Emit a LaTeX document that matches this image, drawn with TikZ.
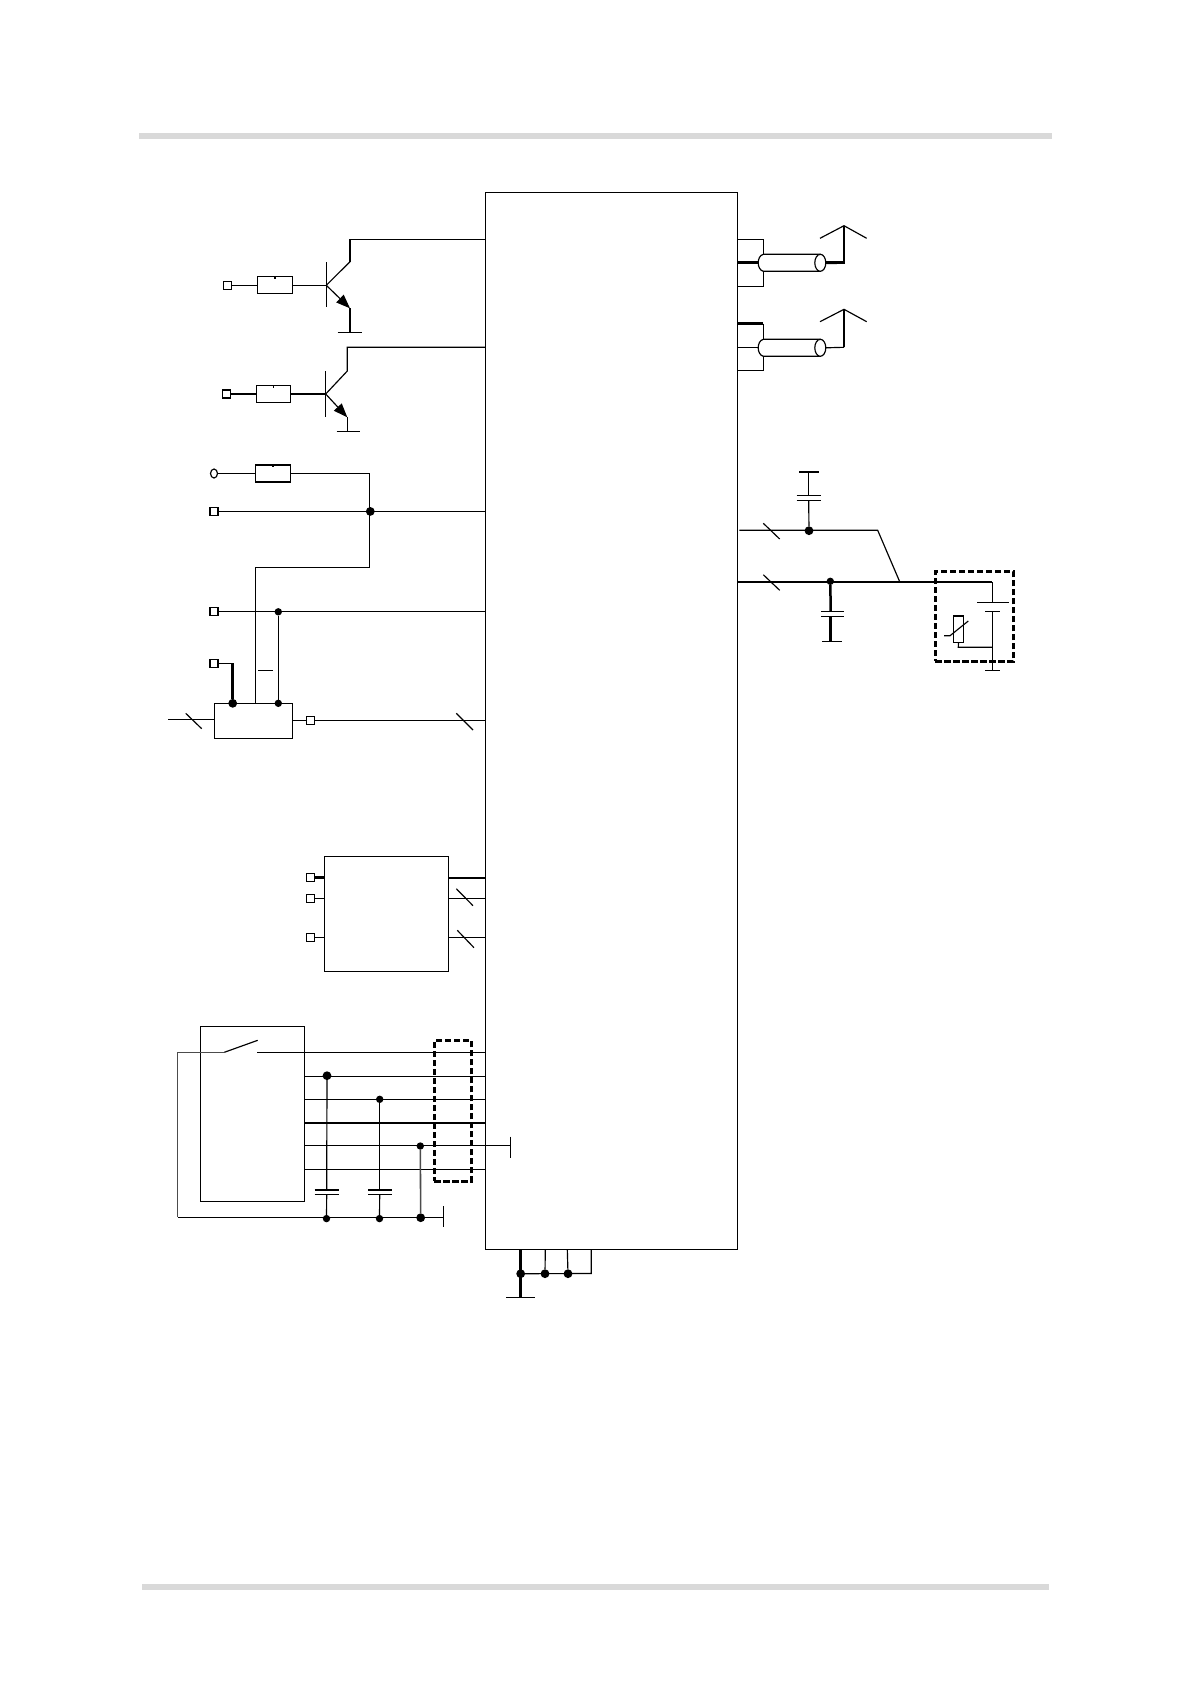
\documentclass[tikz,border=0pt]{standalone}
\usetikzlibrary{arrows.meta,shapes.geometric}
\def\un{0.6pt}
\definecolor{ruleclr}{RGB}{217,217,217}
\tikzset{
  x=0.6pt,y=-0.6pt,
  every path/.style={line width=0.7pt,line join=miter},
  bus/.style={line width=1.5pt},
  grayline/.style={line width=0.95pt,draw=black!70},
  plate/.style={line width=1.1pt},
  rule/.style={fill=ruleclr,draw=none},
  pin/.style={draw,fill=white,rectangle,inner sep=0,outer sep=0,line width=0.7pt,minimum width=8*\un,minimum height=8*\un},
  ringpin/.style={draw,fill=white,ellipse,inner sep=0,outer sep=0,line width=0.7pt,minimum width=7*\un,minimum height=9*\un},
  res/.style={draw,rectangle,inner sep=0,outer sep=0,line width=0.8pt,minimum width=35*\un,minimum height=17*\un},
  block/.style={draw,rectangle,inner sep=0,outer sep=0,line width=0.7pt},
  dot/.style={circle,fill=black,inner sep=0,outer sep=0,minimum size=8.8*\un},
  sdot/.style={circle,fill=black,inner sep=0,outer sep=0,minimum size=7.4*\un},
  dashbox/.style={draw,rectangle,inner sep=0,outer sep=0,line width=1.7pt,dash pattern=on 3.8pt off 1.6pt},
  arrowtip/.style={-{Triangle[length=14*\un,width=10.5*\un]}},
  cabend/.style={draw,ellipse,inner sep=0,outer sep=0,fill=white,line width=0.7pt,minimum width=11*\un,minimum height=17*\un},
}
\begin{document}
\begin{tikzpicture}
\useasboundingbox (0,0) rectangle (1190,1684);
\fill[white] (0,0) rectangle (1190,1684);
% header and footer rules
\fill[rule] (139,133) rectangle (1052,139);
\fill[rule] (142,1584) rectangle (1049,1590);
% main block
\node[block,minimum width=252*\un,minimum height=1057*\un] (main) at (611.3,720.8) {};

%% transistor 1
\node[pin] (p1) at (227.3,285.3) {};
\node[res] (r1) at (275,285.3) {};
\coordinate (b1) at (326.3,285.3);
\coordinate (c1) at (350,261.7);
\coordinate (ct1) at (350,239.3);
\coordinate (e1) at (350,308.3);
\coordinate (g1) at (350,332.3);
\draw (p1) -- (r1);
\draw (r1) -- (b1);
\draw (326.3,262.3) -- (326.3,307.3);
\draw (b1) -- (c1);
\draw[bus] (c1) -- (ct1);
\draw (ct1) -- (ct1 -| main.west);
\draw[arrowtip] (b1) -- (e1);
\draw[bus] (e1) -- (g1);
\draw (337.7,332.3) -- (361.7,332.3);
\draw (r1.north) -- ++(0,2);

%% transistor 2
\node[pin] (p2) at (226.3,394) {};
\node[res,minimum width=34.4*\un] (r2) at (273.5,394) {};
\coordinate (b2) at (325.7,394);
\coordinate (c2) at (347.3,371);
\coordinate (ct2) at (347.3,347.3);
\coordinate (e2) at (347.3,417.3);
\coordinate (g2) at (347.3,431.3);
\draw (p2) -- (r2);
\draw (r2) -- (b2);
\draw (325.7,371) -- (325.7,417.3);
\draw (b2) -- (c2) -- (ct2) -- (ct2 -| main.west);
\draw[arrowtip] (b2) -- (e2);
\draw (e2) -- (g2);
\draw (336.7,431.3) -- (360,431.3);
\draw (r2.north) -- ++(0,2);

%% resistor and pull lines
\node[ringpin] (p3) at (214,473.5) {};
\node[res] (r3) at (273,473.5) {};
\node[pin] (p4) at (214,511.4) {};
\node[dot] (j4) at (370.3,511.4) {};
\node[pin] (p5) at (214,611.8) {};
\node[sdot] (j5) at (278.3,611.8) {};
\node[pin] (p6) at (214,663.7) {};
\node[block,minimum width=78.4*\un,minimum height=35*\un] (reg) at (253.5,720.8) {};
\node[dot] (j6) at (232.7,703.3) {};
\node[sdot] (j7) at (278.3,703.3) {};
\node[pin] (p7) at (310.3,720.3) {};
\coordinate (k1) at (369.3,473.5);
\coordinate (k2) at (369.3,567.3);
\coordinate (k3) at (255.3,567.3);
\coordinate (k4) at (168,719.3);
\draw (p3) -- (r3);
\draw (r3) -- (k1) -- (k2) -- (k3) -- (k3 |- reg.north);
\draw (p4) -- (p4 -| main.west);
\draw (p5) -- (p5 -| main.west);
\draw (j5) -- (j7);
\draw (p6.east) -- (232.7,663.7);
\draw[bus] (232.7,663.4) -- (j6);
\draw (258.3,670.3) -- (273,670.3);
\draw (k4) -- (k4 -| reg.west);
\draw (185.7,713.3) -- (201.7,728.7);
\draw (reg.east |- p7) -- (p7);
\draw (p7) -- (p7 -| main.west);
\draw (456.3,713.3) -- (473,730);
\draw (r3.north) -- ++(0,2);

%% antenna 1
\coordinate (a1) at (844,262.7);
\coordinate (a1t) at (844,225.7);
\draw (737.3,239.3) -- (763.3,239.3) -- (763.3,286.3) -- (737.3,286.3);
\draw[bus] (737.3,262.7) -- (a1) -- (a1t);
\draw[fill=white] (820.7,254.3) -- (763.3,254.3) .. controls (756.5,256) and (756.5,269.5) .. (763.3,271.3) -- (820.7,271.3);
\node[cabend] (cab1) at (820.3,262.8) {};
\draw[bus] (cab1.east) -- (a1);
\draw (820,238.3) -- (a1t) -- (866.7,238.3);

%% antenna 2
\coordinate (a2) at (844,347.3);
\coordinate (a2t) at (844,309.3);
\draw (763.3,323.7) -- (763.3,370.3) -- (737.3,370.3);
\draw[bus] (737.3,323.7) -- (763.3,323.7);
\draw (737.3,347.3) -- (a2);
\draw[fill=white] (820.7,339.3) -- (763.3,339.3) .. controls (756.5,341) and (756.5,354.5) .. (763.3,356.3) -- (820.7,356.3);
\node[cabend] (cab2) at (820.3,347.8) {};
\draw (cab2.east) -- (a2);
\draw[line width=1pt] (a2) -- (a2t);
\draw (820,321.7) -- (a2t) -- (866.7,321.7);

%% right side supply
\node[dot] (j8) at (809,530.7) {};
\node[sdot] (j9) at (830.3,581.3) {};
\coordinate (m1) at (739.3,530.3);
\coordinate (m2) at (877.7,530.3);
\coordinate (m3) at (899.7,581.7);
\coordinate (bt) at (992.3,582);
\draw (m1) -- (m2) -- (m3);
\draw (763.3,523.3) -- (779.7,539);
\draw (j8) -- (808.7,500.3);
\draw (796.7,500.3) -- (820.7,500.3);
\draw (796.7,495.3) -- (820.7,495.3);
\draw (808.7,495.3) -- (808.7,472);
\draw[bus] (799,472) -- (818.7,472);
\draw[bus] (737.3,582) -- (bt);
\draw (763.3,574.7) -- (779.7,590.3);
\draw[bus] (j9) -- (830.7,611.3);
\draw (821,611.3) -- (844.3,611.3);
\draw (821,616.3) -- (844.3,616.3);
\draw[bus] (830.7,616.3) -- (830.7,641.3);
\draw (822.3,641.3) -- (842,641.3);
% battery pack
\node[dashbox,minimum width=78*\un,minimum height=89.6*\un] (pack) at (974.3,616.5) {};
\draw (bt) -- (992.3,602.3);
\draw (977,602.3) -- (1009,602.3);
\draw (985,611.3) -- (1000,611.3);
\draw (992.3,611.3) -- (992.3,670.3);
\draw (985,670.3) -- (1000,670.3);
\node[draw,rectangle,inner sep=0,outer sep=0,line width=0.7pt,minimum width=10.4*\un,minimum height=26.3*\un] (th) at (958.5,629.2) {};
\draw (944,635.7) -- (950,635.7) -- (968.3,621);
\draw (th.south) -- (958.3,647.3) -- (992.3,647.3);

%% SIM-like block
\node[block,minimum width=124.4*\un,minimum height=115*\un] (ic) at (386.5,913.8) {};
\node[pin] (p8) at (310.3,877.7) {};
\node[pin] (p9) at (310.3,898.3) {};
\node[pin] (p10) at (310.3,937.8) {};
\draw[bus] (p8.east) -- (324.3,877.7);
\draw (p9.east) -- (324.3,898.3);
\draw (p10.east) -- (324.3,937.8);
\draw[bus] (448.7,878) -- (485.3,878);
\draw (448.7,898.3) -- (485.3,898.3);
\draw (448.7,937.8) -- (485.3,937.8);
\draw (456.3,888.7) -- (473,905.7);
\draw (457.3,930.3) -- (474,947.7);

%% lower block
\node[block,minimum width=104*\un,minimum height=175*\un] (conn) at (252.3,1113.8) {};
\node[dashbox,minimum width=37*\un,minimum height=140.6*\un] (esd) at (452.8,1111) {};
\node[dot] (j10) at (327,1075.7) {};
\node[sdot] (j11) at (379.7,1099.3) {};
\node[sdot] (j12) at (420.3,1146) {};
\node[sdot] (j13) at (326.5,1218.6) {};
\node[sdot] (j14) at (379.5,1218.6) {};
\node[dot] (j15) at (420.7,1217.7) {};
\coordinate (s1) at (224.3,1052.3);
\coordinate (s2) at (257.7,1040.3);
\coordinate (s3) at (257,1052.3);
\coordinate (s4) at (177.7,1052.3);
\coordinate (s5) at (177.7,1217.3);
\coordinate (s6) at (443.3,1217.3);
\coordinate (g5) at (510.3,1145.3);
\draw (s1) -- (s2);
\draw (s3) -- (s3 -| main.west);
\draw[grayline] (s1) -- (s4) -- (s5);
\draw (s5) -- (s6);
\draw (443.3,1206) -- (443.3,1227.3);
\draw (304.3,1076.3) -- (485.3,1076.3);
\draw (304.3,1099.3) -- (485.3,1099.3);
\draw[bus] (304.3,1123) -- (485.3,1123);
\draw (304.3,1145.3) -- (g5);
\draw (510.3,1136.7) -- (510.3,1158);
\draw (304.3,1169.3) -- (485.3,1169.3);
\draw (j10) -- (326.7,1190.3);
\draw[plate] (314.7,1190.3) -- (338.7,1190.3);
\draw (314.7,1194.7) -- (338.7,1194.7);
\draw (326.7,1194.7) -- (j13);
\draw (j11) -- (379.7,1190.3);
\draw[plate] (368,1190.3) -- (391.7,1190.3);
\draw (368,1194.7) -- (391.7,1194.7);
\draw (379.7,1194.7) -- (j14);
\draw[grayline] (j12) -- (j15);

%% bottom ground
\node[dot] (j16) at (520.7,1273.7) {};
\node[dot] (j17) at (545,1273.7) {};
\node[dot] (j18) at (568,1273.7) {};
\coordinate (g6) at (520.7,1297.3);
\draw[bus] (520.7,1249.3) -- (g6);
\draw (506,1297.3) -- (535.3,1297.3);
\draw (j16) -- (591.3,1273.5) -- (591.3,1249.3);
\draw (545.3,1249.3) -- (j17);
\draw (567.3,1249.3) -- (j18);
\end{tikzpicture}
\end{document}
